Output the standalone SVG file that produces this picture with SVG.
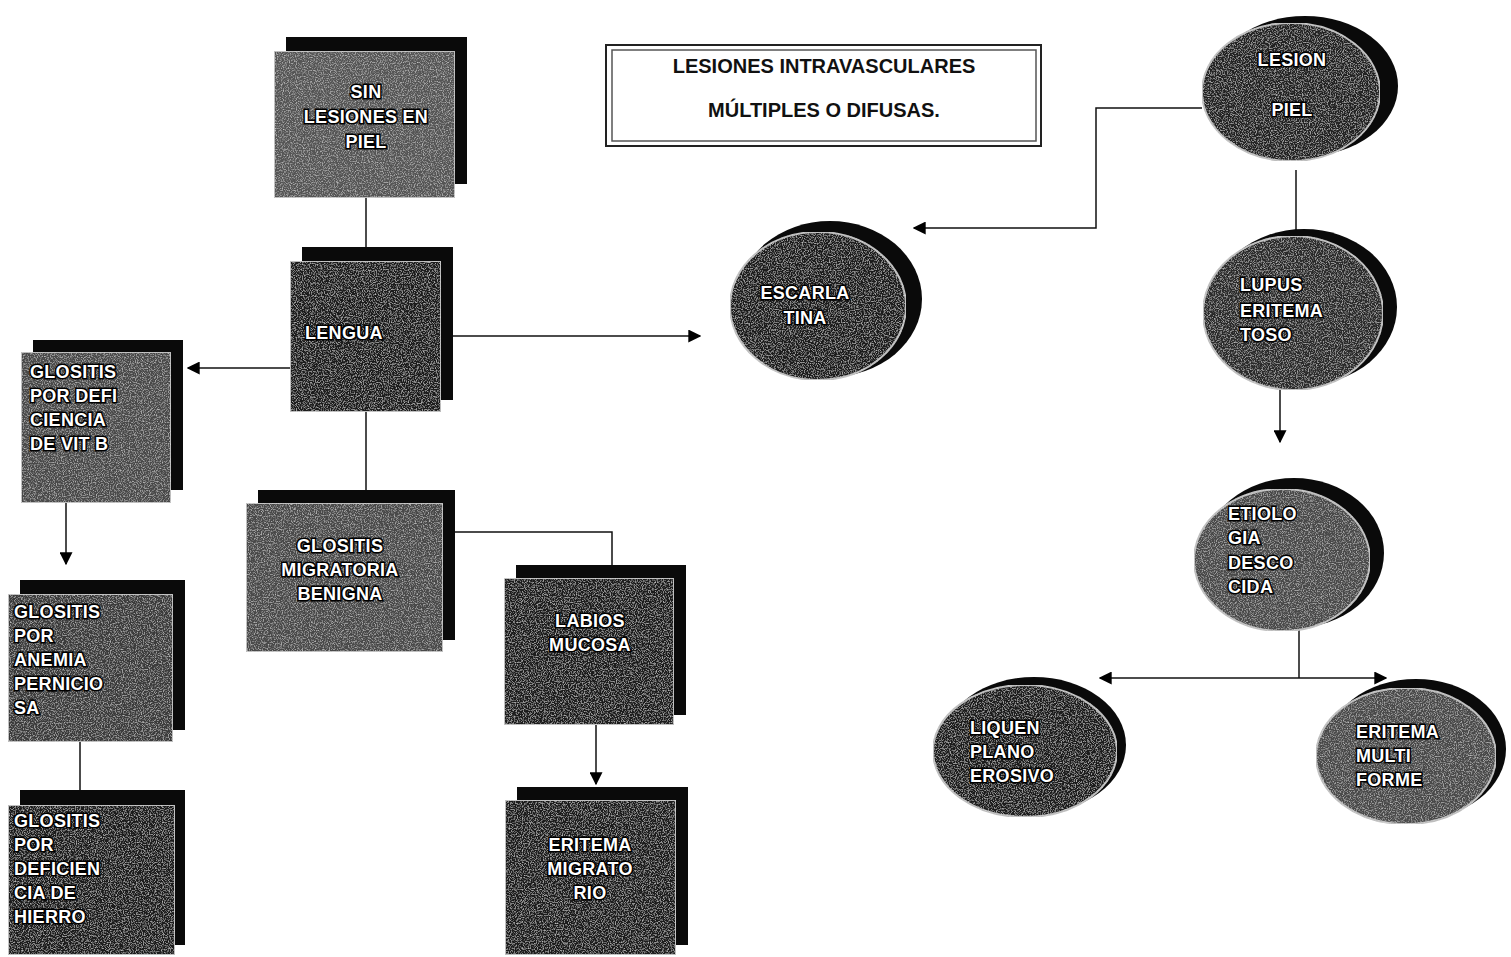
<svg xmlns="http://www.w3.org/2000/svg" width="1511" height="957" viewBox="0 0 1511 957">
<style>
.sh{fill:#0a0a0a}
.fr{fill:#3a3a3a;stroke:#bdbdbd;stroke-width:2;filter:url(#grain)}
.t{font-family:"Liberation Sans",Arial,sans-serif;font-weight:bold;font-size:18px;fill:#fff;stroke:#000;stroke-width:3;paint-order:stroke;letter-spacing:0.3px}
.c{text-anchor:middle}
.ln{fill:none;stroke:#111;stroke-width:1.5}
.ttl{font-family:"Liberation Sans",Arial,sans-serif;font-weight:bold;font-size:20px;fill:#111;text-anchor:middle}
</style>
<defs>
<filter id="grain" x="0" y="0" width="100%" height="100%">
<feTurbulence type="fractalNoise" baseFrequency="0.85" numOctaves="2" seed="3" result="n"/>
<feColorMatrix in="n" type="matrix" values="0 0 0 0 0.75 0 0 0 0 0.75 0 0 0 0 0.75 0 0 0 1.6 -0.75" result="spk"/>
<feComposite in="spk" in2="SourceGraphic" operator="in" result="s"/>
<feMerge><feMergeNode in="SourceGraphic"/><feMergeNode in="s"/></feMerge>
</filter>
<marker id="ah" viewBox="0 0 10 10" refX="9" refY="5" markerWidth="13" markerHeight="13" markerUnits="userSpaceOnUse" orient="auto"><path d="M0,0 L10,5 L0,10 z" fill="#000"/></marker>
</defs>
<rect width="1511" height="957" fill="#fff"/>

<g id="connectors">
<path class="ln" d="M366,198 V248"/>
<path class="ln" d="M290,368 H188" marker-end="url(#ah)"/>
<path class="ln" d="M453,336 H700" marker-end="url(#ah)"/>
<path class="ln" d="M366,412 V490"/>
<path class="ln" d="M66,503 V564" marker-end="url(#ah)"/>
<path class="ln" d="M80,742 V790"/>
<path class="ln" d="M455,532 H612 V565"/>
<path class="ln" d="M596,725 V784" marker-end="url(#ah)"/>
<path class="ln" d="M1202,108 H1096 V228 H914" marker-end="url(#ah)"/>
<path class="ln" d="M1296,170 V236"/>
<path class="ln" d="M1280,390 V442" marker-end="url(#ah)"/>
<path class="ln" d="M1299,630 V678"/>
<path class="ln" d="M1299,678 H1100" marker-end="url(#ah)"/>
<path class="ln" d="M1299,678 H1386" marker-end="url(#ah)"/>
</g>

<g id="title">
<rect x="606" y="45" width="435" height="101" fill="#fff" stroke="#222" stroke-width="2"/>
<rect x="612" y="50" width="424" height="91" fill="none" stroke="#555" stroke-width="1.5"/>
<text class="ttl" x="824" y="73">LESIONES INTRAVASCULARES</text>
<text class="ttl" x="824" y="117">MÚLTIPLES O DIFUSAS.</text>
</g>

<g id="sin-lesiones">
<rect class="sh" x="286" y="37" width="181" height="147"/>
<rect class="fr" x="274" y="51" width="181" height="147" style="fill:#555"/>
<text class="t c" x="366" y="98">SIN</text>
<text class="t c" x="366" y="123">LESIONES EN</text>
<text class="t c" x="366" y="148">PIEL</text>
</g>

<g id="lengua">
<rect class="sh" x="302" y="247" width="151" height="153"/>
<rect class="fr" x="290" y="261" width="151" height="151" style="fill:#1c1c1c"/>
<text class="t" x="305" y="339">LENGUA</text>
</g>

<g id="glositis-vitb">
<rect class="sh" x="33" y="340" width="150" height="150"/>
<rect class="fr" x="21" y="352" width="150" height="151" style="fill:#4a4a4a"/>
<text class="t" x="30" y="378">GLOSITIS</text>
<text class="t" x="30" y="402">POR DEFI</text>
<text class="t" x="30" y="426">CIENCIA</text>
<text class="t" x="30" y="450">DE VIT B</text>
</g>

<g id="glositis-anemia">
<rect class="sh" x="20" y="580" width="165" height="150"/>
<rect class="fr" x="8" y="594" width="165" height="148"/>
<text class="t" x="14" y="618">GLOSITIS</text>
<text class="t" x="14" y="642">POR</text>
<text class="t" x="14" y="666">ANEMIA</text>
<text class="t" x="14" y="690">PERNICIO</text>
<text class="t" x="14" y="714">SA</text>
</g>

<g id="glositis-hierro">
<rect class="sh" x="20" y="790" width="165" height="155"/>
<rect class="fr" x="8" y="805" width="167" height="150" style="fill:#1e1e1e"/>
<text class="t" x="14" y="827">GLOSITIS</text>
<text class="t" x="14" y="851">POR</text>
<text class="t" x="14" y="875">DEFICIEN</text>
<text class="t" x="14" y="899">CIA DE</text>
<text class="t" x="14" y="923">HIERRO</text>
</g>

<g id="glositis-migratoria">
<rect class="sh" x="258" y="490" width="197" height="150"/>
<rect class="fr" x="246" y="503" width="197" height="149" style="fill:#4a4a4a"/>
<text class="t c" x="340" y="552">GLOSITIS</text>
<text class="t c" x="340" y="576">MIGRATORIA</text>
<text class="t c" x="340" y="600">BENIGNA</text>
</g>

<g id="labios">
<rect class="sh" x="516" y="565" width="170" height="150"/>
<rect class="fr" x="504" y="578" width="170" height="147" style="fill:#1e1e1e"/>
<text class="t c" x="590" y="627">LABIOS</text>
<text class="t c" x="590" y="651">MUCOSA</text>
</g>

<g id="eritema-migratorio">
<rect class="sh" x="517" y="787" width="171" height="158"/>
<rect class="fr" x="505" y="800" width="171" height="155" style="fill:#1a1a1a"/>
<text class="t c" x="590" y="851">ERITEMA</text>
<text class="t c" x="590" y="875">MIGRATO</text>
<text class="t c" x="590" y="899">RIO</text>
</g>

<g id="lesion-piel">
<ellipse class="sh" cx="1305" cy="86" rx="93" ry="70"/>
<ellipse class="fr" cx="1291" cy="92" rx="89" ry="69" style="fill:#202020"/>
<text class="t c" x="1292" y="66">LESION</text>
<text class="t c" x="1292" y="116">PIEL</text>
</g>

<g id="escarlatina">
<ellipse class="sh" cx="830" cy="299" rx="92" ry="78"/>
<ellipse class="fr" cx="818" cy="306" rx="88" ry="74" style="fill:#1c1c1c"/>
<text class="t c" x="805" y="299">ESCARLA</text>
<text class="t c" x="805" y="324">TINA</text>
</g>

<g id="lupus">
<ellipse class="sh" cx="1304" cy="307" rx="93" ry="78"/>
<ellipse class="fr" cx="1293" cy="313" rx="90" ry="77" style="fill:#2a2a2a"/>
<text class="t" x="1240" y="291">LUPUS</text>
<text class="t" x="1240" y="317">ERITEMA</text>
<text class="t" x="1240" y="341">TOSO</text>
</g>

<g id="etiologia">
<ellipse class="sh" cx="1294" cy="553" rx="90" ry="75"/>
<ellipse class="fr" cx="1282" cy="560" rx="88" ry="71" style="fill:#4a4a4a"/>
<text class="t" x="1228" y="520">ETIOLO</text>
<text class="t" x="1228" y="544">GIA</text>
<text class="t" x="1228" y="569">DESCO</text>
<text class="t" x="1228" y="593">CIDA</text>
</g>

<g id="liquen">
<ellipse class="sh" cx="1034" cy="745" rx="92" ry="68"/>
<ellipse class="fr" cx="1025" cy="751" rx="92" ry="66" style="fill:#1e1e1e"/>
<text class="t" x="970" y="734">LIQUEN</text>
<text class="t" x="970" y="758">PLANO</text>
<text class="t" x="970" y="782">EROSIVO</text>
</g>

<g id="eritema-multiforme">
<ellipse class="sh" cx="1416" cy="749" rx="90" ry="70"/>
<ellipse class="fr" cx="1406" cy="756" rx="90" ry="68" style="fill:#4a4a4a"/>
<text class="t" x="1356" y="738">ERITEMA</text>
<text class="t" x="1356" y="762">MULTI</text>
<text class="t" x="1356" y="786">FORME</text>
</g>
</svg>
